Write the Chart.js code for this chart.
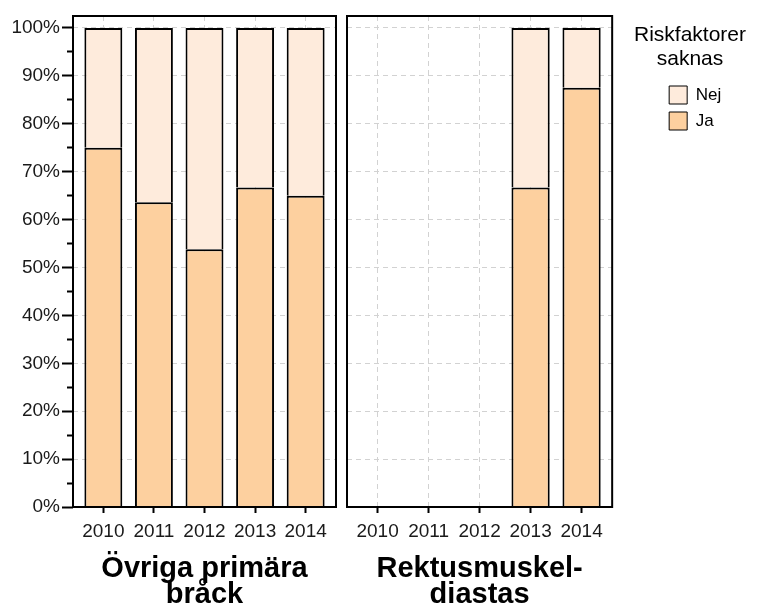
<!DOCTYPE html>
<html>
<head>
<meta charset="utf-8">
<script src="https://cdn.jsdelivr.net/npm/chart.js@4.4.0/dist/chart.umd.min.js"></script>
<style>
  html, body { margin: 0; padding: 0; background: #fff; }
  #wrap { position: relative; width: 760px; height: 605px; }
  canvas { position: absolute; top: 0; }
  #left { left: 0; }
  #right { left: 340px; }
  #keyTitle {
    position: absolute; left: 610px; top: 22px; width: 160px;
    text-align: center; line-height: 25px; color: #000;
    font: 21px "Liberation Sans", Arial, sans-serif;
  }
</style>
</head>
<body>
<div id="wrap">
  <canvas id="left" width="340" height="605"></canvas>
  <canvas id="right" width="420" height="605"></canvas>
  <div id="keyTitle"></div>
</div>
<script>
// --- Data ---
const years = ['2010', '2011', '2012', '2013', '2014'];

// Övriga primära bråck (percent of operations)
const otherJa = [75, 63.6, 53.8, 66.7, 65];
const otherNej = [25, 36.4, 46.2, 33.3, 35];

// Rektusmuskeldiastas (no operations 2010-2012)
const rectusJa = [0, 0, 0, 66.7, 87.5];
const rectusNej = [0, 0, 0, 33.3, 12.5];

const panelTitles = [['Övriga primära', 'bråck'], ['Rektusmuskel-', 'diastas']];
const legendTitle = ['Riskfaktorer', 'saknas'];

const colJa = '#fdd09f';
const colNej = '#feebdc';
const gridCol = '#d2d2d2';
const textCol = '#1a1a1a';

Chart.defaults.font.family = '"Liberation Sans", Arial, sans-serif';
Chart.defaults.color = textCol;

document.getElementById('keyTitle').innerHTML = legendTitle.join('<br>');

// black box round each panel
const panelFrame = {
    id: 'panelFrame',
    afterDatasetsDraw(chart) {
        const { ctx, chartArea: a } = chart;
        ctx.save();
        ctx.lineWidth = 2;
        ctx.strokeStyle = '#000';
        ctx.strokeRect(a.left, a.top, a.right - a.left, a.bottom - a.top);
        ctx.restore();
    }
};

function points(values) {
    return values.map((v, i) => ({ x: i + 1, y: v }));
}

function xScale(title) {
    return {
        type: 'linear',
        stacked: true,
        offset: false,
        min: 0.4,
        max: 5.6,
        afterFit: s => { s.height = 98; },
        ticks: {
            stepSize: 1,
            includeBounds: false,
            autoSkip: false,
            maxRotation: 0,
            padding: 7,
            color: textCol,
            font: { size: 19 },
            callback: v => years[v - 1]
        },
        grid: {
            offset: false,
            color: gridCol,
            lineWidth: 1,
            tickLength: 6,
            tickWidth: 2,
            tickColor: '#000',
            tickBorderDash: []
        },
        border: { display: false, dash: [5, 4] },
        title: {
            display: true,
            text: title,
            color: '#000',
            font: { size: 29, weight: 'bold', lineHeight: '26px' },
            padding: { top: 0, bottom: -3 }
        }
    };
}

function yScale(showTicks) {
    return {
        stacked: true,
        min: 0,
        max: 102.5,
        afterFit: s => { s.width = showTicks ? 73 : 0; },
        ticks: {
            display: showTicks,
            stepSize: 5,
            includeBounds: false,
            autoSkip: false,
            padding: 2,
            color: textCol,
            font: { size: 19 },
            callback: v => (v % 10 === 0 ? v + '%' : '')
        },
        grid: {
            color: c => (c.tick && c.tick.value % 10 === 0 ? gridCol : 'rgba(0,0,0,0)'),
            lineWidth: 1,
            drawTicks: showTicks,
            tickLength: showTicks ? 11 : 0,
            tickWidth: 2,
            tickColor: '#000',
            // minor ticks: only the 6px next to the panel
            tickBorderDash: c => (c.tick && c.tick.value % 10 === 0 ? [] : [0, 5, 6, 20])
        },
        border: { display: false, dash: [5, 4] }
    };
}

function datasets(ja, nej) {
    const common = {
        borderColor: '#000',
        borderWidth: 2,
        barPercentage: 0.75,
        categoryPercentage: 1
    };
    return [
        Object.assign({ label: 'Ja', data: points(ja), backgroundColor: colJa }, common),
        Object.assign({ label: 'Nej', data: points(nej), backgroundColor: colNej }, common)
    ];
}

// --- Left panel (with y axis) ---
new Chart(document.getElementById('left'), {
    type: 'bar',
    data: { datasets: datasets(otherJa, otherNej) },
    options: {
        responsive: false,
        animation: false,
        layout: { padding: { top: 16, right: 4, left: 0, bottom: 0 } },
        scales: {
            x: xScale(panelTitles[0]),
            y: yScale(true)
        },
        plugins: {
            legend: { display: false },
            tooltip: { enabled: false }
        }
    },
    plugins: [panelFrame]
});

// --- Right panel (with legend keys) ---
new Chart(document.getElementById('right'), {
    type: 'bar',
    data: { datasets: datasets(rectusJa, rectusNej) },
    options: {
        responsive: false,
        animation: false,
        layout: { padding: { top: 16, right: 36, left: 7, bottom: 0 } },
        scales: {
            x: xScale(panelTitles[1]),
            y: yScale(false),
            // empty axis that keeps the legend away from the panel
            gap: {
                type: 'linear',
                position: 'right',
                display: true,
                afterFit: s => { s.width = 49; },
                ticks: { display: false },
                grid: { display: false, drawTicks: false },
                border: { display: false }
            }
        },
        plugins: {
            legend: {
                position: 'right',
                align: 'start',
                reverse: true,
                // empty title only reserves room for the html legend title
                title: {
                    display: true,
                    text: '',
                    font: { size: 1, lineHeight: '0px' },
                    padding: { top: 62, bottom: 0 }
                },
                labels: {
                    boxWidth: 18,
                    boxHeight: 18,
                    padding: 8,
                    color: '#000',
                    font: { size: 17 },
                    generateLabels: chart => Chart.defaults.plugins.legend.labels.generateLabels(chart)
                        .map(l => Object.assign(l, { lineWidth: 1 }))
                }
            },
            tooltip: { enabled: false }
        }
    },
    plugins: [panelFrame]
});
</script>
</body>
</html>
